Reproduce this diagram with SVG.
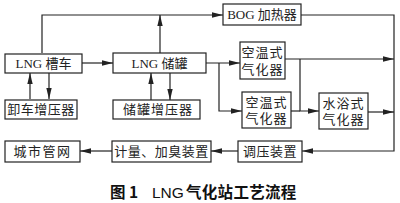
<svg xmlns="http://www.w3.org/2000/svg" width="400" height="203" viewBox="0 0 400 203">
<style>
.box{fill:#fff;stroke:#222;stroke-width:1.2}
.t{font-family:"Liberation Serif","Noto Sans CJK SC",serif;font-size:13px;fill:#222;text-anchor:middle}
.c{fill:none;stroke:#222;stroke-width:1.2}
.cap{font-family:"Noto Sans CJK SC",sans-serif;font-size:15.5px;font-weight:bold;fill:#111}
</style>
<defs>
<marker id="a" markerUnits="userSpaceOnUse" markerWidth="11" markerHeight="7" refX="11" refY="3.5" orient="auto">
<path d="M0,0.8 L11,3.5 L0,6.2 z" fill="#222"/>
</marker>
</defs>
<rect width="400" height="203" fill="#fff"/>
<g id="connectors">
<path class="c" d="M82,63 H113" marker-end="url(#a)"/>
<path class="c" d="M42,53 V15 H223" marker-end="url(#a)"/>
<path class="c" d="M160,53 V15" marker-end="url(#a)"/>
<path class="c" d="M30,99 V73" marker-end="url(#a)"/>
<path class="c" d="M49,73 V99" marker-end="url(#a)"/>
<path class="c" d="M151,100 V73" marker-end="url(#a)"/>
<path class="c" d="M170,73 V100" marker-end="url(#a)"/>
<path class="c" d="M206,63 H240" marker-end="url(#a)"/>
<path class="c" d="M219,63 V111 H242" marker-end="url(#a)"/>
<path class="c" d="M285,59 H394" marker-end="url(#a)"/>
<path class="c" d="M300,59 V111 H319" marker-end="url(#a)"/>
<path class="c" d="M291,111 H300"/>
<path class="c" d="M368,112 H394" marker-end="url(#a)"/>
<path class="c" d="M301,15 H394 V151 H302" marker-end="url(#a)"/>
<path class="c" d="M238,151 H211" marker-end="url(#a)"/>
<path class="c" d="M112,151 H80" marker-end="url(#a)"/>
</g>
<g id="lng-truck"><rect class="box" x="5" y="54" width="77" height="19"/><text class="t" x="43.5" y="68">LNG 槽车</text></g>
<g id="lng-tank"><rect class="box" x="113" y="53" width="93" height="20"/><text class="t" x="159.5" y="68">LNG 储罐</text></g>
<g id="unload-booster"><rect class="box" x="5" y="100" width="72" height="19"/><text class="t" x="41" y="114" letter-spacing="0.5">卸车增压器</text></g>
<g id="tank-booster"><rect class="box" x="113" y="100" width="87" height="19"/><text class="t" x="158" y="114" letter-spacing="1">储罐增压器</text></g>
<g id="bog-heater"><rect class="box" x="223" y="4" width="78" height="21"/><text class="t" x="262" y="19">BOG 加热器</text></g>
<g id="air-vaporizer-1"><rect class="box" x="240" y="42" width="45" height="37"/><text class="t" x="262.5" y="57" letter-spacing="1">空温式</text><text class="t" x="262.5" y="74" letter-spacing="1">气化器</text></g>
<g id="air-vaporizer-2"><rect class="box" x="242" y="92" width="49" height="36"/><text class="t" x="266.5" y="107" letter-spacing="1">空温式</text><text class="t" x="266.5" y="123" letter-spacing="1">气化器</text></g>
<g id="water-vaporizer"><rect class="box" x="319" y="93" width="49" height="36"/><text class="t" x="343.5" y="108" letter-spacing="1">水浴式</text><text class="t" x="343.5" y="124" letter-spacing="1">气化器</text></g>
<g id="city-network"><rect class="box" x="5" y="141" width="75" height="21"/><text class="t" x="42.5" y="156" letter-spacing="1.5">城市管网</text></g>
<g id="metering"><rect class="box" x="112" y="141" width="99" height="21"/><text class="t" x="161.5" y="156" letter-spacing="0.5">计量、加臭装置</text></g>
<g id="regulator"><rect class="box" x="238" y="141" width="64" height="21"/><text class="t" x="270" y="156" letter-spacing="0.5">调压装置</text></g>
<text class="cap" x="110" y="198">图 1<tspan x="152" font-family="'Liberation Sans Narrow','Liberation Sans',sans-serif" font-weight="normal">LNG</tspan><tspan x="186" letter-spacing="0.3">气化站工艺流程</tspan></text>
</svg>
